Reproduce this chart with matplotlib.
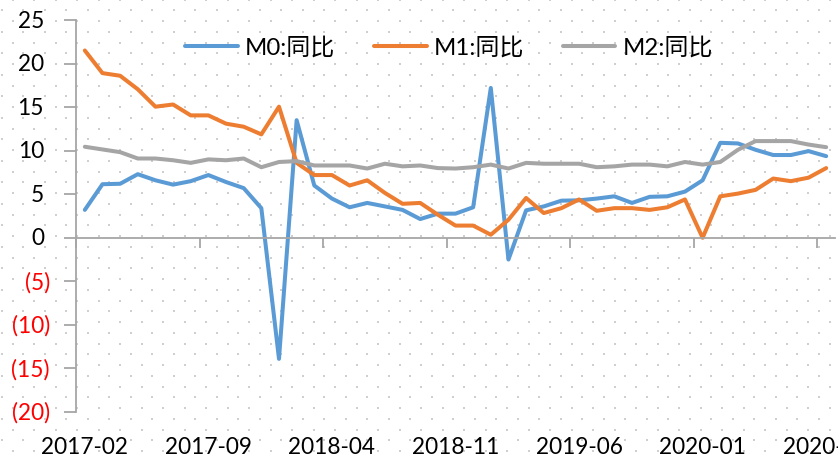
import numpy as np
import pandas as pd
import matplotlib
matplotlib.use('Agg')
import matplotlib.pyplot as plt

# monthly yoy growth, 2017-02 .. 2020-08
months = list(pd.period_range('2017-02', periods=43, freq='M').strftime('%Y-%m'))

m0 = [3.2, 6.15, 6.2, 7.3, 6.6, 6.1, 6.5, 7.2, 6.4, 5.7, 3.4, -13.9, 13.5,
      6.0, 4.5, 3.5, 4.0, 3.6, 3.2, 2.15, 2.77, 2.77, 3.5, 17.2, -2.5, 3.15,
      3.6, 4.26, 4.3, 4.5, 4.76, 4.0, 4.7, 4.76, 5.3, 6.6, 10.9, 10.83, 10.1,
      9.5, 9.5, 9.95, 9.37]
m1 = [21.5, 18.9, 18.6, 17.05, 15.05, 15.3, 14.05, 14.05, 13.1, 12.75, 11.87,
      15.05, 8.6, 7.2, 7.2, 6.0, 6.6, 5.15, 3.9, 4.0, 2.65, 1.4, 1.4, 0.35,
      2.07, 4.57, 2.84, 3.4, 4.4, 3.1, 3.4, 3.4, 3.2, 3.5, 4.4, 0.0, 4.76,
      5.07, 5.5, 6.8, 6.5, 6.9, 8.0]
m2 = [10.45, 10.14, 9.83, 9.1, 9.1, 8.9, 8.6, 9.0, 8.9, 9.1, 8.1, 8.7, 8.8,
      8.3, 8.3, 8.3, 7.95, 8.5, 8.2, 8.3, 8.0, 7.95, 8.1, 8.4, 7.95, 8.6, 8.5,
      8.5, 8.5, 8.1, 8.2, 8.4, 8.4, 8.2, 8.7, 8.4, 8.7, 10.1, 11.1, 11.1, 11.1,
      10.7, 10.4]
series_names = ['M0:同比', 'M1:同比', 'M2:同比']
colors = ['#5B9BD5', '#ED7D31', '#A5A5A5']
yticks = [25, 20, 15, 10, 5, 0, -5, -10, -15, -20]

fam = ['Lato', 'Noto Sans CJK SC', 'DejaVu Sans']
plt.rcParams['font.family'] = fam

W, H = 838, 460
fig = plt.figure(figsize=(W / 100, H / 100), dpi=100)

# dotted pattern background
bg = fig.add_axes([0, 0, 1, 1], zorder=-5)
bg.set_xlim(0, W)
bg.set_ylim(H, 0)
bg.axis('off')
px, py = [], []
for k, yy in enumerate(np.arange(301.7 - 10.75 * 28, H + 5, 10.75)):
    off = 12.5 if k % 2 == 0 else 1.75
    xs = np.arange(off, W + 5, 21.5)
    px.extend(xs)
    py.extend([yy] * len(xs))
bg.scatter(px, py, s=1.6, marker='s', color='#cfcfcf', linewidths=0)

ax = fig.add_axes([76 / W, 1 - 413 / H, (835 - 76) / W, (413 - 21) / H])
ax.set_facecolor('none')

x = np.arange(len(months))
for vals, name, c in zip([m0, m1, m2], series_names, colors):
    ax.plot(x, vals, color=c, lw=2.9, label=name, solid_joinstyle='round',
            solid_capstyle='round', clip_on=False)

ax.set_xlim(-0.5, len(months) - 0.5)
ax.set_ylim(-20, 25)

for s in ['top', 'right']:
    ax.spines[s].set_visible(False)
ax.spines['bottom'].set_position(('data', 0))
for s in ['left', 'bottom']:
    ax.spines[s].set_color('#a6a6a6')
    ax.spines[s].set_linewidth(1.3)

ax.set_xticks(np.arange(-0.5, len(months), 7))
ax.set_xticklabels([])
ax.set_yticks(yticks)
ax.set_yticklabels([])
ax.tick_params(axis='both', color='#a6a6a6', width=1.3, length=7, direction='out')
ax.tick_params(axis='y', length=9)

for i in range(0, len(months), 7):
    ax.text(i, -0.087, months[i], transform=ax.get_xaxis_transform(),
            ha='center', va='center', fontsize=16.3, color='black', clip_on=False)

for v in yticks:
    if v < 0:
        ax.text(-26 / 759, v, '(%d)' % -v, transform=ax.get_yaxis_transform(),
                ha='right', va='center', fontsize=16.3, color='#ff0000')
    else:
        ax.text(-32 / 759, v, '%d' % v, transform=ax.get_yaxis_transform(),
                ha='right', va='center', fontsize=16.3, color='black')

leg = ax.legend(loc='center', bbox_to_anchor=(449 / W, 1 - 48 / H),
                bbox_transform=fig.transFigure, ncol=3, frameon=False,
                fontsize=17.3, handlelength=2.2, handletextpad=0.3,
                columnspacing=1.6)

plt.savefig('out.png', dpi=100)
